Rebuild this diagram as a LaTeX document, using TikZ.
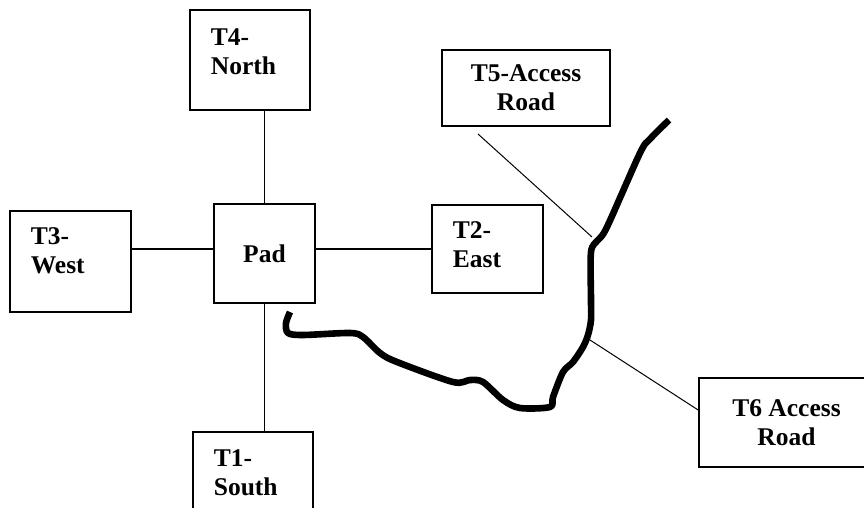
\documentclass[tikz,border=0pt]{standalone}
\usepackage{fontspec}
\setmainfont{Liberation Serif}
\usepackage{tikz}
\usetikzlibrary{calc}

\begin{document}
\begin{tikzpicture}[
  x=1pt, y=-1pt,
  box/.style={draw, line width=1.7pt, inner ysep=0pt,
              font=\fontsize{25.5}{29}\selectfont\bfseries},
  sidebox/.style={box, anchor=north west, align=left, inner xsep=21pt},
  midbox/.style={box, align=center, inner xsep=0pt},
  link/.style={line width=1.3pt},
  leader/.style={line width=1pt},
  road/.style={line width=6.6pt, line join=round}
]
  \useasboundingbox (0,0) rectangle (864,508);

  % Boxes
  \node[midbox, minimum width=101pt, minimum height=99pt] (pad) at (264.5,253.5) {Pad};
  \node[sidebox, text width=78pt, text height=36pt, text depth=64pt] (t4) at (189,9) {T4-\\North};
  \node[sidebox, text width=79pt, text height=34pt, text depth=67pt] (t3) at (9,210) {T3-\\West};
  \node[sidebox, text width=69pt, text height=34pt, text depth=54pt] (t2) at (431,204) {T2-\\East};
  \node[sidebox, text width=78pt, text height=35pt, text depth=65pt] (t1) at (192,431) {T1-\\South};
  \node[midbox, minimum width=168pt, minimum height=76pt] (t5) at (526,88) {T5-Access\\Road};
  \node[midbox, minimum width=175pt, minimum height=89pt] (t6) at (786.5,422.5) {T6 Access\\Road};

  % Links to the pad
  \draw[link] (pad.north) -- (pad.north |- t4.south);
  \draw[link] (pad.south) -- (pad.south |- t1.north);
  \draw[link] (t3.east |- t2.west) -- (pad.west |- t2.west);
  \draw[link] (pad.east |- t2.west) -- (t2.west);

  % Road
  \draw[road] plot[smooth, tension=0.5] coordinates {
    (669,120) (650,139) (640,153) (607,227) (598,240) (591,252) (591,300)
    (591,320) (588,335) (583,347) (573,362) (563,372) (553,397) (550,407)
    (520,408) (503,400) (483,382) (470,380) (453,382) (397,362) (380,353)
    (363,337) (350,333) (303,335) (288,333) (286,323) (290,312)};
  \coordinate (r5) at (592,237);
  \coordinate (r6) at (590,340);
  \coordinate (t5end) at (478,134);

  % Leaders to the road
  \draw[leader] (t5end) -- (r5);
  \draw[leader] (r6) -- ([yshift=12.5pt]t6.west);
\end{tikzpicture}
\end{document}
